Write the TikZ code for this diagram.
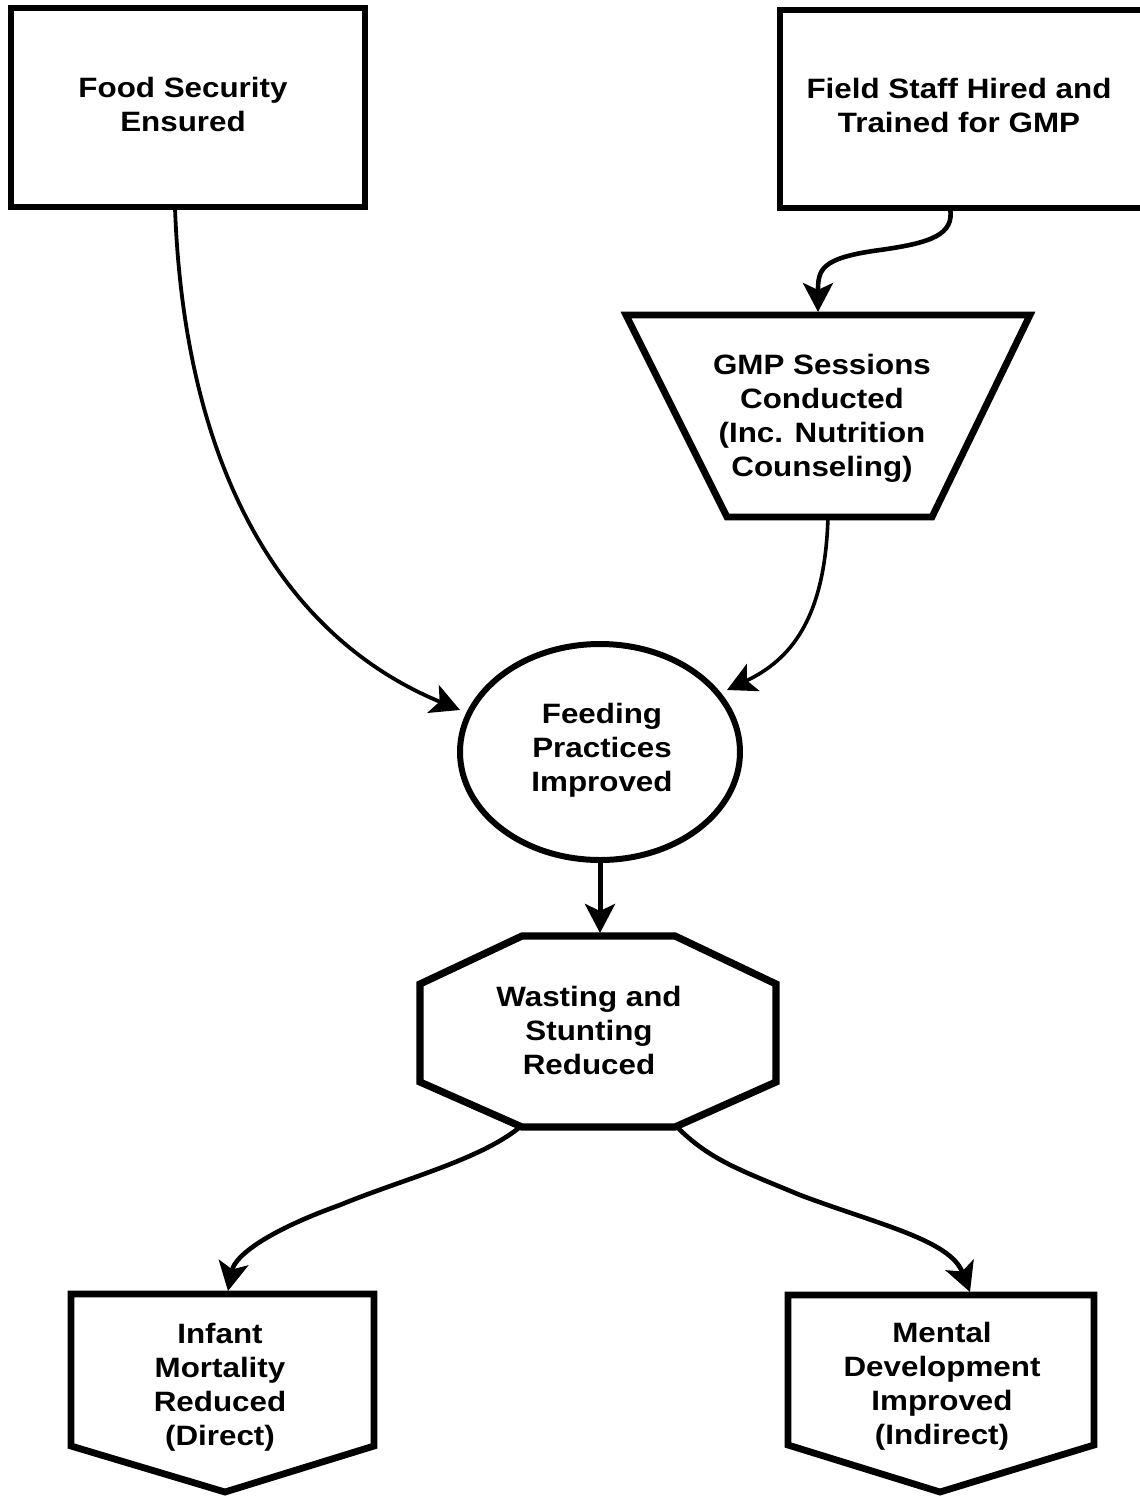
\documentclass[tikz,border=0pt]{standalone}
\usepackage{fontspec}
\setmainfont[FakeStretch=1.12]{Liberation Sans}
\usetikzlibrary{arrows.meta}
\begin{document}
\begin{tikzpicture}[x=0.5pt,y=-0.5pt,
  shapeline/.style={line width=3.4pt, line join=miter},
  lbl/.style={align=center, font=\fontsize{14}{17}\selectfont\bfseries, inner sep=0pt},
  conn/.style={-{Stealth[length=14.5pt,width=15pt,inset=3.5pt]}, line width=2.3pt}]
\useasboundingbox (0,0) rectangle (1140,1499);

% shapes
\draw[shapeline] (11,8) rectangle (365,207);
\node[lbl] (fse) at (183,104) {Food Security\\Ensured};

\draw[shapeline] (780,10) rectangle (1170,208);
\node[lbl] (fst) at (959,105) {Field Staff Hired and\\Trained for GMP};

\draw[shapeline] (626,315) -- (1030,315) -- (932,517) -- (727,517) -- cycle;
\node[lbl] (gmp) at (822,418) {GMP Sessions\\Conducted\\(Inc. Nutrition\\Counseling)};

\draw[line width=3pt] (600,752) ellipse [x radius=140, y radius=108];
\node[lbl] (fpi) at (602,750) {Feeding\\Practices\\Improved};

\draw[shapeline, line width=3.6pt] (522,936) -- (675,936) -- (776,984) -- (776,1082) -- (675,1127) -- (522,1127) -- (420,1082) -- (420,984) -- cycle;
\node[lbl] (wsr) at (589,1030) {Wasting and\\Stunting\\Reduced};

\draw[shapeline] (71,1294) -- (374,1294) -- (374,1446) -- (225,1492) -- (71,1446) -- cycle;
\node[lbl] (imr) at (220,1387) {Infant\\Mortality\\Reduced\\(Direct)};

\draw[shapeline] (788,1295) -- (1094,1295) -- (1094,1445) -- (940,1492) -- (788,1445) -- cycle;
\node[lbl] (mdi) at (942,1386) {Mental\\Development\\Improved\\(Indirect)};

% connector ends
\coordinate (fse-s) at (175,208);
\coordinate (fpi-w) at (460,710);
\coordinate (fst-s) at (950,208);
\coordinate (gmp-n) at (818,312);
\coordinate (gmp-s) at (828,517);
\coordinate (fpi-ne) at (727,690);
\coordinate (fpi-s) at (600,860);
\coordinate (wsr-n) at (600,933);
\coordinate (wsr-sw) at (520,1127);
\coordinate (wsr-se) at (677,1127);
\coordinate (imr-n) at (228,1291);
\coordinate (mdi-n) at (970,1292);

% connectors
\draw[conn, line width=1.9pt] (fse-s) .. controls (185,480) and (290,640) .. (fpi-w);
\draw[conn] (fst-s) .. controls (955,235) and (930,243) .. (880,250) .. controls (820,258) and (818,270) .. (gmp-n);
\draw[conn, line width=1.8pt] (gmp-s) .. controls (825,620) and (790,660) .. (fpi-ne);
\draw[conn, line width=2.5pt] (fpi-s) -- (wsr-n);
\draw[conn] (wsr-sw) .. controls (480,1160) and (400,1180) .. (340,1205) .. controls (270,1230) and (235,1255) .. (imr-n);
\draw[conn] (wsr-se) .. controls (710,1160) and (740,1170) .. (800,1195) .. controls (880,1225) and (950,1240) .. (mdi-n);
\end{tikzpicture}
\end{document}
